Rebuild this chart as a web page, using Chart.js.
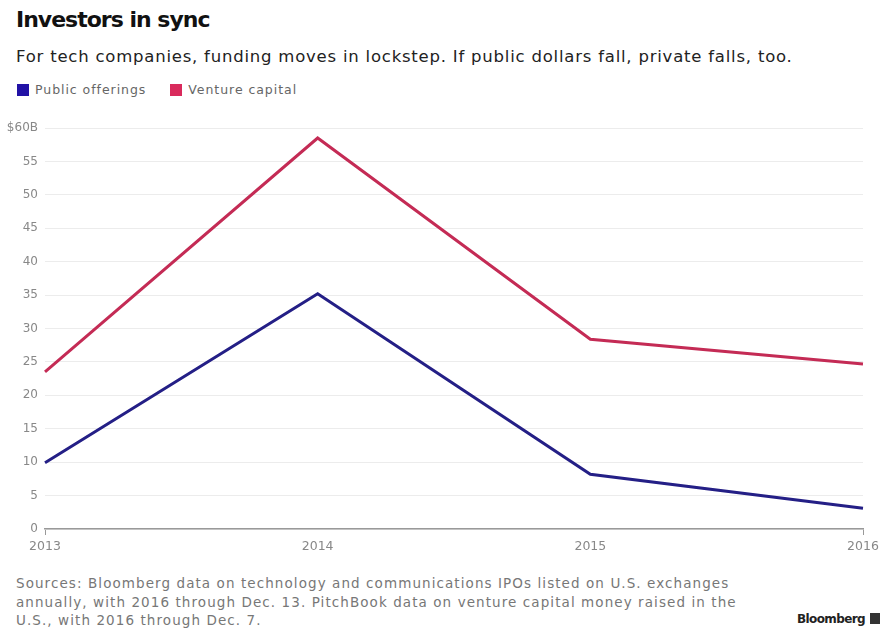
<!DOCTYPE html>
<html>
<head>
<meta charset="utf-8">
<script src="https://cdn.jsdelivr.net/npm/chart.js@4"></script>
<style>
  body { margin: 0; background: #fff; width: 887px; height: 629px; position: relative; overflow: hidden; font-family: "DejaVu Sans", sans-serif; }
  #titulo { position: absolute; left: 16px; top: 7px; font-size: 22px; font-weight: bold; color: #111; letter-spacing: -1px; white-space: nowrap; }
  #subtitulo { position: absolute; left: 16px; top: 47px; font-size: 16.5px; color: #222; letter-spacing: 0.78px; white-space: nowrap; }
  #leyenda { position: absolute; left: 17px; top: 82px; font-size: 12.5px; color: #666; letter-spacing: 0.95px; white-space: nowrap; }
  #leyenda span.caja { display: inline-block; width: 12px; height: 12px; vertical-align: -2px; margin-right: 6px; }
  #leyenda span.item { margin-right: 24px; }
  #grafico-wrap { position: absolute; left: 0; top: 110px; width: 887px; height: 450px; }
  #fuente { position: absolute; left: 16px; top: 574px; font-size: 13.5px; line-height: 18.5px; color: #777; white-space: nowrap; letter-spacing: 1.08px; }
  #marca { position: absolute; left: 797px; top: 612px; font-size: 12px; font-weight: bold; color: #222; white-space: nowrap; letter-spacing: -0.6px; }
  #marca span { display: inline-block; width: 10px; height: 11px; background: #333; margin-left: 5px; vertical-align: -1px; }
</style>
</head>
<body>
<div id="titulo">Investors in sync</div>
<div id="subtitulo">For tech companies, funding moves in lockstep. If public dollars fall, private falls, too.</div>
<div id="leyenda"></div>
<div id="grafico-wrap"><canvas id="grafico"></canvas></div>
<div id="fuente">Sources: Bloomberg data on technology and communications IPOs listed on U.S. exchanges<br>annually, with 2016 through Dec. 13. PitchBook data on venture capital money raised in the<br>U.S., with 2016 through Dec. 7.</div>
<div id="marca">Bloomberg<span></span></div>
<script>
const anios = ['2013', '2014', '2015', '2016'];
const ofertasPublicas = [9.9, 35.2, 8.2, 3.1];
const capitalRiesgo = [23.5, 58.5, 28.4, 24.7];
const nombres = ['Public offerings', 'Venture capital'];
const colores = ['#241f86', '#c42b55'];
const coloresLeyenda = ['#2212a6', '#d92a5c'];

// leyenda en HTML
const leyenda = document.getElementById('leyenda');
nombres.forEach((n, i) => {
    const item = document.createElement('span');
    item.className = 'item';
    item.innerHTML = '<span class="caja" style="background:' + coloresLeyenda[i] + '"></span>' + n;
    leyenda.appendChild(item);
});

const ctx = document.getElementById('grafico');
new Chart(ctx, {
    type: 'line',
    data: {
        labels: anios,
        datasets: [{
            label: nombres[0],
            data: ofertasPublicas,
            borderColor: colores[0],
            borderWidth: 3,
            pointRadius: 0,
            tension: 0
        }, {
            label: nombres[1],
            data: capitalRiesgo,
            borderColor: colores[1],
            borderWidth: 3,
            pointRadius: 0,
            tension: 0
        }]
    },
    options: {
        responsive: true,
        maintainAspectRatio: false,
        animation: false,
        layout: { padding: { top: 18, right: 24, bottom: 0, left: 0 } },
        plugins: {
            legend: { display: false },
            tooltip: { enabled: false }
        },
        scales: {
            x: {
                offset: false,
                afterFit: s => { s.height = 31; },
                grid: {
                    drawOnChartArea: false,
                    tickLength: 6,
                    tickColor: c => (c.index === 0 || c.index === anios.length - 1) ? '#999' : 'transparent'
                },
                border: { color: '#999', width: 1.5 },
                ticks: { color: '#888', font: { family: 'DejaVu Sans', size: 12.5 }, padding: 4, maxRotation: 0 }
            },
            y: {
                min: 0,
                max: 60,
                afterFit: s => { s.width = 45; },
                grid: { color: '#ececec', drawTicks: false },
                border: { display: false },
                ticks: {
                    stepSize: 5,
                    color: '#888',
                    padding: 7,
                    font: { family: 'DejaVu Sans', size: 12 },
                    callback: v => v === 60 ? '$60B' : v
                }
            }
        }
    }
});
</script>
</body>
</html>
